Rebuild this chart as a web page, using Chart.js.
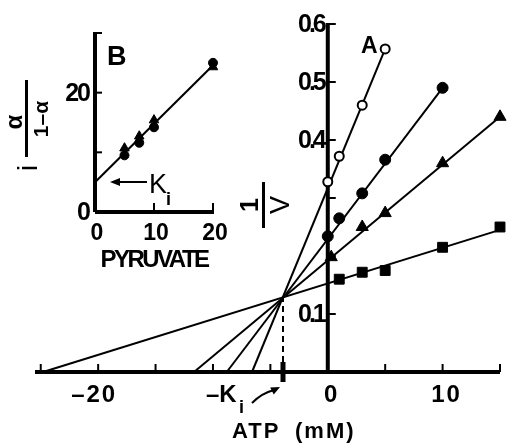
<!DOCTYPE html>
<html lang="en">
<head>
<meta charset="utf-8"/>
<title>ATP inhibition, Lineweaver-Burk</title>
<script src="https://cdn.jsdelivr.net/npm/chart.js"></script>
<style>
body { margin: 0; background: #fff; }
#wrap { position: relative; width: 508px; height: 443px; }
#wrap canvas { position: absolute; left: 0; top: 0; }
</style>
</head>
<body>
<div id="wrap">
<canvas id="mainChart" width="508" height="443"></canvas>
<canvas id="insetChart" width="240" height="280"></canvas>
</div>
<script>
// ---- panel A: 1/v against ATP (mM) ----
const atpTicks = [-25, -20, -15, -10, -5, 0, 5, 10, 15];
const atpTickLabels = ['', '\u201320', '', '', '', '0', '', '10', ''];
const invVTicks = [0.1, 0.2, 0.3, 0.4, 0.5, 0.6];
const invVTickLabels = ['0.1', '', '', '0.4', '0.5', '0.6'];

const openAtp = [0, 1, 3, 5];
const openInvV = [0.328, 0.372, 0.46, 0.557];
const dotAtp = [0, 1, 3, 5, 10];
const dotInvV = [0.234, 0.265, 0.308, 0.366, 0.49];
const triAtp = [0.3, 3, 5, 10, 15];
const triInvV = [0.198, 0.25, 0.274, 0.36, 0.44];
const sqAtp = [1, 3, 5, 10, 15];
const sqInvV = [0.16, 0.172, 0.175, 0.215, 0.25];

// fitted lines: from x intercept up to last point
const fitStartAtp = [-6.6, -8.8, -11.65, -24.8];
const fitEndAtp = [5, 10, 15, 15];
const fitEndInvV = [0.557, 0.49, 0.44, 0.245];

// common intersection (-Ki)
const kiAtp = -3.9;
const kiInvV = 0.128;

// ---- panel B: i*alpha/(1-alpha) against pyruvate ----
const pyrTicks = [0, 10, 20];
const pyrTickLabels = ['0', '10', '20'];
const ratioTicks = [0, 10, 20, 30];
const ratioTickLabels = ['0', '', '20', ''];
const pyruvate = [5, 7.5, 10, 20];
const dotRatio = [9.5, 11.6, 14.2, 25.0];
const triRatio = [10.7, 12.7, 15.4, 24.3];
const insetFitPyr = [0, 20];
const insetFitRatio = [5, 24.6];

const pts = (xs, ys) => xs.map((x, i) => ({x: x, y: ys[i]}));
const FONT = '"Liberation Sans", Arial, sans-serif';

function seg(ctx, x1, y1, x2, y2) {
  ctx.beginPath(); ctx.moveTo(x1, y1); ctx.lineTo(x2, y2); ctx.stroke();
}
function head(ctx, x, y, ang, len, wid) {
  ctx.beginPath();
  ctx.moveTo(x, y);
  ctx.lineTo(x - len * Math.cos(ang) + wid * Math.sin(ang), y - len * Math.sin(ang) - wid * Math.cos(ang));
  ctx.lineTo(x - len * Math.cos(ang) - wid * Math.sin(ang), y - len * Math.sin(ang) + wid * Math.cos(ang));
  ctx.closePath(); ctx.fill();
}

const lineSets = fitStartAtp.map((s, i) => ({
  data: [{x: s, y: 0}, {x: fitEndAtp[i], y: fitEndInvV[i]}],
  showLine: true, pointRadius: 0, borderColor: '#000', borderWidth: 2, order: 1, clip: false
}));

const axesA = {
  id: 'axesA',
  beforeDatasetsDraw(chart) {
    const {ctx, scales: {x, y}} = chart;
    const x0 = x.getPixelForValue(0), yb = y.getPixelForValue(0);
    const yTop = y.getPixelForValue(0.6);
    ctx.save();
    ctx.strokeStyle = '#000'; ctx.fillStyle = '#000';
    ctx.lineWidth = 4;
    seg(ctx, x.left, yb, x.right, yb);
    seg(ctx, x0, yb, x0, yTop - 1);
    ctx.lineWidth = 2;
    atpTicks.forEach(v => { const px = x.getPixelForValue(v); seg(ctx, px, yb, px, yb - 8); });
    invVTicks.forEach(v => { const py = y.getPixelForValue(v); seg(ctx, x0, py, x0 + 8, py); });
    // -Ki mark on the axis
    const kx = x.getPixelForValue(kiAtp);
    ctx.lineWidth = 5;
    seg(ctx, kx, yb - 10, kx, yb + 10);
    ctx.restore();
  },
  afterDraw(chart) {
    const {ctx, scales: {x, y}} = chart;
    const x0 = x.getPixelForValue(0), yb = y.getPixelForValue(0);
    ctx.save();
    ctx.fillStyle = '#000'; ctx.strokeStyle = '#000';
    // y tick labels
    ctx.font = 'bold 25px ' + FONT;
    ctx.letterSpacing = '-3px';
    ctx.textAlign = 'right'; ctx.textBaseline = 'middle';
    invVTicks.forEach((v, i) => {
      if (invVTickLabels[i]) ctx.fillText(invVTickLabels[i], x0 - 4, y.getPixelForValue(v) + 1);
    });
    // x tick labels
    ctx.font = 'bold 24px ' + FONT;
    ctx.letterSpacing = '2px';
    ctx.textAlign = 'center'; ctx.textBaseline = 'alphabetic';
    atpTicks.forEach((v, i) => {
      const t = atpTickLabels[i];
      if (!t) return;
      let px = x.getPixelForValue(v);
      if (t.length > 2) px -= 8;
      ctx.fillText(t, px + 4, yb + 30);
    });
    // -Ki
    ctx.textAlign = 'left';
    ctx.font = 'bold 24px ' + FONT;
    ctx.letterSpacing = '0px';
    ctx.fillText('\u2013K', 206, 402);
    ctx.font = 'bold 18px ' + FONT;
    ctx.fillText('i', 239, 413);
    // curved arrow to -Ki
    ctx.lineWidth = 2;
    ctx.beginPath(); ctx.moveTo(252, 403); ctx.quadraticCurveTo(262, 393, 274, 390); ctx.stroke();
    head(ctx, 280, 387, Math.atan2(-3, 6), 9, 4);
    // axis title
    ctx.font = 'bold 22px ' + FONT;
    ctx.letterSpacing = '2px';
    ctx.fillText('ATP', 232, 438);
    ctx.fillText('(mM)', 295, 438);
    // panel letter
    ctx.letterSpacing = '0px';
    ctx.font = 'bold 23px ' + FONT;
    ctx.fillText('A', 361, 53);
    // 1/V
    ctx.save();
    ctx.translate(264, 205); ctx.rotate(-Math.PI / 2);
    ctx.font = 'bold 25px ' + FONT;
    ctx.textAlign = 'center'; ctx.textBaseline = 'alphabetic';
    ctx.fillText('1', 0, -6);
    ctx.fillRect(-23, -2, 46, 3);
    ctx.font = '27px ' + FONT;
    ctx.fillText('V', 0, 25);
    ctx.restore();
    ctx.restore();
  }
};

new Chart(document.getElementById('mainChart'), {
  type: 'scatter',
  data: {
    datasets: [
      {data: pts(openAtp, openInvV), pointStyle: 'circle', pointRadius: 4.5, backgroundColor: '#fff', borderColor: '#000', borderWidth: 2, clip: false},
      {data: pts(dotAtp, dotInvV), pointStyle: 'circle', pointRadius: 5.5, backgroundColor: '#000', borderColor: '#000', borderWidth: 1, clip: false},
      {data: pts(triAtp, triInvV), pointStyle: 'triangle', pointRadius: 7, backgroundColor: '#000', borderColor: '#000', borderWidth: 1, clip: false},
      {data: pts(sqAtp, sqInvV), pointStyle: 'rect', pointRadius: 7, backgroundColor: '#000', borderColor: '#000', borderWidth: 1, clip: false},
      ...lineSets,
      {data: [{x: kiAtp, y: 0}, {x: kiAtp, y: kiInvV}], showLine: true, pointRadius: 0, borderColor: '#000', borderWidth: 2, borderDash: [6, 4], order: 1}
    ]
  },
  options: {
    responsive: false,
    animation: false,
    layout: {padding: {left: 35, right: 4, top: 24, bottom: 71}},
    plugins: {legend: {display: false}, tooltip: {enabled: false}},
    scales: {
      x: {type: 'linear', min: -25.5, max: 15, display: false},
      y: {type: 'linear', min: 0, max: 0.6, display: false}
    }
  },
  plugins: [axesA]
});

const axesB = {
  id: 'axesB',
  beforeDatasetsDraw(chart) {
    const {ctx, scales: {x, y}} = chart;
    const xl = x.getPixelForValue(0), yb = y.getPixelForValue(0);
    ctx.save();
    ctx.strokeStyle = '#000'; ctx.fillStyle = '#000';
    ctx.lineWidth = 4;
    seg(ctx, xl, yb, x.getPixelForValue(20) + 1, yb);
    seg(ctx, xl, yb, xl, y.getPixelForValue(30) - 1);
    ctx.lineWidth = 2;
    pyrTicks.forEach(v => { const px = x.getPixelForValue(v); if (v) seg(ctx, px, yb, px, yb - 9); });
    ratioTicks.forEach(v => { const py = y.getPixelForValue(v); if (v) seg(ctx, xl, py, xl + 7, py); });
    ctx.restore();
  },
  afterDraw(chart) {
    const {ctx, scales: {x, y}} = chart;
    const xl = x.getPixelForValue(0), yb = y.getPixelForValue(0);
    ctx.save();
    ctx.fillStyle = '#000'; ctx.strokeStyle = '#000';
    ctx.font = 'bold 25px ' + FONT;
    ctx.letterSpacing = '-2px';
    ctx.textAlign = 'right'; ctx.textBaseline = 'middle';
    ratioTicks.forEach((v, i) => {
      if (ratioTickLabels[i]) ctx.fillText(ratioTickLabels[i], xl - 6, y.getPixelForValue(v) + 1);
    });
    ctx.font = 'bold 23px ' + FONT;
    ctx.letterSpacing = '0px';
    ctx.textAlign = 'center'; ctx.textBaseline = 'alphabetic';
    pyrTicks.forEach((v, i) => ctx.fillText(pyrTickLabels[i], x.getPixelForValue(v) + 2, yb + 28));
    ctx.font = 'bold 24px ' + FONT;
    ctx.letterSpacing = '-2.5px';
    ctx.fillText('PYRUVATE', 154, 267);
    ctx.letterSpacing = '0px';
    ctx.textAlign = 'left';
    ctx.font = 'bold 27px ' + FONT;
    ctx.fillText('B', 107, 65);
    // Ki arrow
    ctx.lineWidth = 2;
    seg(ctx, 147, 182, 118, 182);
    head(ctx, 110, 182, Math.PI, 10, 4);
    ctx.font = '27px ' + FONT;
    ctx.fillText('K', 149, 193);
    ctx.font = 'bold 18px ' + FONT;
    ctx.fillText('i', 166, 205);
    // y title: i * alpha / (1 - alpha), rotated
    ctx.save();
    ctx.translate(27, 118); ctx.rotate(-Math.PI / 2);
    ctx.textAlign = 'center'; ctx.textBaseline = 'alphabetic';
    ctx.fillRect(-39, -2, 77, 3);
    ctx.font = 'bold 24px ' + FONT;
    ctx.fillText('\u03b1', -4, -5);
    ctx.font = 'bold 21px ' + FONT;
    ctx.fillText('1\u2013\u03b1', -1, 21);
    ctx.font = '27px ' + FONT;
    ctx.fillText('i', -50, 10);
    ctx.restore();
    ctx.restore();
  }
};

new Chart(document.getElementById('insetChart'), {
  type: 'scatter',
  data: {
    datasets: [
      {data: pts(pyruvate, dotRatio), pointStyle: 'circle', pointRadius: 4.5, backgroundColor: '#000', borderColor: '#000', borderWidth: 1, clip: false},
      {data: pts(pyruvate, triRatio), pointStyle: 'triangle', pointRadius: 5.5, backgroundColor: '#000', borderColor: '#000', borderWidth: 1, clip: false},
      {data: pts(insetFitPyr, insetFitRatio), showLine: true, pointRadius: 0, borderColor: '#000', borderWidth: 2, order: 1}
    ]
  },
  options: {
    responsive: false,
    animation: false,
    layout: {padding: {left: 95, right: 27, top: 33, bottom: 68}},
    plugins: {legend: {display: false}, tooltip: {enabled: false}},
    scales: {
      x: {type: 'linear', min: 0, max: 20, display: false},
      y: {type: 'linear', min: 0, max: 30, display: false}
    }
  },
  plugins: [axesB]
});
</script>
</body>
</html>
